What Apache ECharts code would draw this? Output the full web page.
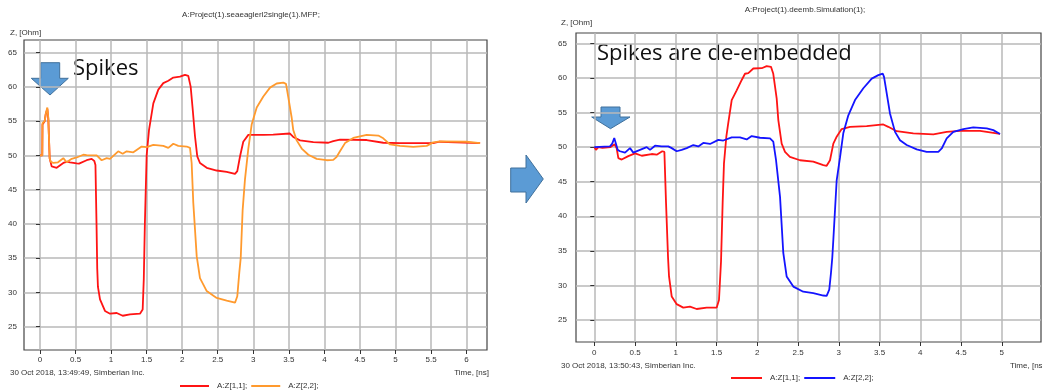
<!DOCTYPE html>
<html>
<head>
<meta charset="utf-8">
<script src="https://cdn.jsdelivr.net/npm/echarts@6/dist/echarts.min.js"></script>
<style>
html,body{margin:0;padding:0;background:#fff;}
#c{width:1042px;height:392px;}
</style>
</head>
<body>
<div id="c"></div>
<script>
// ---------- data ----------
const xTicksLeft = [0,0.5,1,1.5,2,2.5,3,3.5,4,4.5,5,5.5,6];
const xTicksRight = [0,0.5,1,1.5,2,2.5,3,3.5,4,4.5,5];
const yTicks = [25,30,35,40,45,50,55,60,65];

const leftTitle = 'A:Project(1).seaeaglerl2single(1).MFP;';
const rightTitle = 'A:Project(1).deemb.Simulation(1);';
const yAxisName = 'Z, [Ohm]';
const xAxisName = 'Time, [ns]';
const leftStamp = '30 Oct 2018, 13:49:49, Simberian Inc.';
const rightStamp = '30 Oct 2018, 13:50:43, Simberian Inc.';
const seriesLabels = ['A:Z[1,1];', 'A:Z[2,2];'];
const leftNote = 'Spikes';
const rightNote = 'Spikes are de-embedded';

// left chart, Z[1,1] (red)
const leftZ11 = [[0,50],[0.032,50],[0.035,54.5],[0.066,55.0],[0.08,56.0],[0.103,56.8],[0.117,55.3],[0.136,49.6],[0.15,49.0],[0.164,48.4],[0.235,48.2],[0.328,48.9],[0.384,49.1],[0.422,49.0],[0.516,48.85],[0.549,48.8],[0.656,49.3],[0.727,49.5],[0.764,49.2],[0.78,48.6],[0.795,40.0],[0.805,33.5],[0.815,30.8],[0.844,29.0],[0.914,27.3],[0.985,26.9],[1.079,27.0],[1.163,26.6],[1.266,26.8],[1.406,26.9],[1.444,27.5],[1.46,32.0],[1.475,40.0],[1.50,50.0],[1.533,53.7],[1.594,57.6],[1.664,59.6],[1.734,60.55],[1.805,60.9],[1.875,61.37],[1.969,61.5],[2.039,61.76],[2.086,61.6],[2.119,60.05],[2.148,56.7],[2.18,52.8],[2.212,49.85],[2.25,48.9],[2.345,48.2],[2.485,47.8],[2.626,47.6],[2.743,47.3],[2.775,47.7],[2.813,49.85],[2.859,52.0],[2.93,53.0],[3.14,53.0],[3.28,53.05],[3.516,53.2],[3.562,52.7],[3.657,52.2],[3.844,51.95],[4.055,51.85],[4.125,52.1],[4.219,52.3],[4.595,52.25],[4.828,51.85],[5.063,51.8],[5.53,51.8],[5.62,52.0],[6.19,51.8]];
// left chart, Z[2,2] (orange)
const leftZ22 = [[0,50],[0.032,50],[0.035,54.7],[0.066,55.0],[0.08,56.0],[0.103,57.0],[0.117,55.5],[0.136,49.6],[0.15,49.1],[0.188,48.9],[0.253,49.0],[0.328,49.6],[0.375,49.0],[0.446,49.5],[0.516,49.7],[0.609,50.1],[0.656,50.05],[0.797,50.0],[0.867,49.3],[0.938,49.6],[0.985,49.5],[1.1,50.6],[1.163,50.25],[1.219,50.6],[1.313,50.45],[1.43,51.3],[1.5,51.2],[1.594,51.55],[1.734,51.4],[1.805,51.1],[1.875,51.7],[1.945,51.4],[2.063,51.3],[2.11,51.1],[2.133,48.9],[2.156,43.1],[2.204,35.3],[2.25,32.1],[2.345,30.2],[2.485,29.2],[2.626,28.8],[2.743,28.5],[2.775,29.45],[2.803,32.9],[2.823,35.0],[2.85,42.0],[2.883,46.5],[2.93,51.0],[2.977,54.5],[3.048,57.0],[3.141,58.6],[3.235,59.9],[3.329,60.5],[3.422,60.62],[3.46,60.45],[3.492,58.5],[3.54,55.5],[3.562,53.7],[3.61,52.2],[3.681,51.0],[3.774,50.1],[3.892,49.5],[4.032,49.3],[4.125,49.35],[4.173,49.8],[4.219,50.6],[4.29,51.8],[4.406,52.55],[4.595,53.0],[4.758,52.9],[4.828,52.5],[4.923,51.6],[5.063,51.4],[5.25,51.25],[5.439,51.4],[5.53,51.9],[5.626,52.05],[6.0,52.0],[6.19,51.8]];
// right chart, Z[1,1] (red)
const rightZ11 = [[0,50],[0.02,49.6],[0.05,50.0],[0.1,49.9],[0.2,50.0],[0.25,50.4],[0.275,49.8],[0.295,48.4],[0.336,48.2],[0.417,48.7],[0.5,49.1],[0.582,48.75],[0.704,49.0],[0.766,48.9],[0.834,49.4],[0.86,49.3],[0.88,42.0],[0.905,34.0],[0.917,31.3],[0.95,28.4],[1.011,27.3],[1.092,26.8],[1.174,26.95],[1.256,26.6],[1.379,26.8],[1.502,26.8],[1.53,27.9],[1.555,33.5],[1.575,42.0],[1.591,47.6],[1.62,51.5],[1.644,53.5],[1.686,56.8],[1.747,58.2],[1.809,59.7],[1.849,60.6],[1.89,60.7],[1.951,61.36],[2.054,61.4],[2.115,61.7],[2.168,61.6],[2.196,60.6],[2.238,57.0],[2.258,53.9],[2.299,50.5],[2.34,49.3],[2.4,48.6],[2.524,48.1],[2.687,47.9],[2.81,47.4],[2.851,47.3],[2.892,48.1],[2.933,50.5],[2.974,51.5],[3.035,52.6],[3.137,52.93],[3.342,53.03],[3.546,53.27],[3.607,52.93],[3.71,52.3],[3.914,51.98],[4.16,51.85],[4.324,52.2],[4.487,52.35],[4.733,52.35],[4.978,51.9]];
// right chart, Z[2,2] (blue)
const rightZ22 = [[0,50],[0.193,50.1],[0.22,50.5],[0.245,51.3],[0.266,51.05],[0.287,49.6],[0.315,49.4],[0.377,49.2],[0.438,49.85],[0.479,49.2],[0.561,49.6],[0.643,50.0],[0.684,49.6],[0.745,50.2],[0.827,50.1],[0.908,50.1],[0.95,49.85],[1.011,49.4],[1.072,49.6],[1.134,49.85],[1.215,50.3],[1.276,50.1],[1.337,50.6],[1.42,50.45],[1.522,51.05],[1.583,50.95],[1.686,51.4],[1.787,51.4],[1.87,51.1],[1.931,51.6],[2.033,51.35],[2.156,51.25],[2.196,50.8],[2.23,48.1],[2.279,42.8],[2.319,34.7],[2.36,31.3],[2.442,29.84],[2.564,29.1],[2.687,28.9],[2.81,28.55],[2.851,28.5],[2.883,29.4],[2.904,31.8],[2.92,34.0],[2.933,36.6],[2.974,45.2],[3.015,48.5],[3.055,52.0],[3.117,54.6],[3.199,56.8],[3.301,58.5],[3.404,59.9],[3.485,60.4],[3.539,60.63],[3.555,60.14],[3.588,57.75],[3.628,54.86],[3.69,52.2],[3.751,51.0],[3.833,50.3],[3.956,49.67],[4.078,49.3],[4.221,49.3],[4.263,49.8],[4.324,51.25],[4.405,52.2],[4.528,52.6],[4.65,52.84],[4.815,52.7],[4.896,52.45],[4.978,51.9]];

// ---------- styling ----------
const RED = '#ff1414', ORANGE = '#ff9a2e', BLUE = '#1414ff';
const FONT = '"Liberation Sans", Arial, sans-serif';
const NOTE_FONT = '22px "Open Sans", sans-serif';
const gridLine = {show: true, lineStyle: {color: '#b9b9b9', width: 1.5}};

function xAxisCfg(gi, min, max, ticks, margin) {
  return {
    type: 'value', gridIndex: gi, min: min, max: max,
    axisLine: {show: false},
    axisTick: {show: true, length: 4, inside: false, customValues: ticks, lineStyle: {color: '#333'}},
    axisLabel: {customValues: ticks, margin: margin, color: '#333', fontSize: 8, fontFamily: FONT},
    splitLine: gridLine
  };
}
function yAxisCfg(gi, min, max, margin) {
  return {
    type: 'value', gridIndex: gi, min: min, max: max,
    axisLine: {show: false},
    axisTick: {show: true, length: 4, inside: false, customValues: yTicks, lineStyle: {color: '#333'}},
    axisLabel: {customValues: yTicks, margin: margin, color: '#333', fontSize: 8, fontFamily: FONT},
    splitLine: gridLine
  };
}
function lineSeries(id, data, color, xi) {
  return {
    name: id, type: 'line', xAxisIndex: xi, yAxisIndex: xi, data: data,
    showSymbol: false, symbol: 'none', animation: false, clip: true,
    lineStyle: {color: color, width: 1.8}, itemStyle: {color: color}
  };
}
function txt(x, y, s, opts) {
  return Object.assign({type: 'text', x: x, y: y, silent: true,
    style: Object.assign({text: s, font: '8px ' + FONT, fill: '#333', align: 'left', verticalAlign: 'middle'}, opts || {})});
}
function poly(points) {
  return {type: 'polygon', shape: {points: points}, style: {fill: '#5b9bd5', stroke: '#41719c', lineWidth: 1}};
}
function legendCfg(names, left, centerY, w) {
  return {data: names, left: left, top: centerY - 5, padding: 0, icon: 'rect',
    itemWidth: w, itemHeight: 2, itemGap: 4,
    formatter: n => legendNames[n], selectedMode: false,
    textStyle: {fontSize: 8, color: '#333', fontFamily: FONT, lineHeight: 10, padding: [0, 0, 0, 3]}};
}

const legendNames = {L11: seriesLabels[0], L22: seriesLabels[1], R11: seriesLabels[0], R22: seriesLabels[1]};

const chart = echarts.init(document.getElementById('c'), null, {renderer: 'canvas'});
chart.setOption({
  animation: false,
  backgroundColor: '#fff',
  grid: [
    {left: 24, top: 40, width: 463, height: 310, show: true, borderColor: '#444', borderWidth: 1.2, backgroundColor: 'transparent'},
    {left: 576, top: 33, width: 465, height: 309, show: true, borderColor: '#444', borderWidth: 1.2, backgroundColor: 'transparent'}
  ],
  xAxis: [
    xAxisCfg(0, -0.225, 6.287, xTicksLeft, 6),
    xAxisCfg(1, -0.2245, 5.481, xTicksRight, 7)
  ],
  yAxis: [
    yAxisCfg(0, 21.6, 66.85, 7),
    yAxisCfg(1, 21.83, 66.49, 9)
  ],
  legend: [
    legendCfg(['L11', 'L22'], 180, 386, 29),
    legendCfg(['R11', 'R22'], 731, 378, 31)
  ],
  series: [
    lineSeries('L11', leftZ11, RED, 0),
    lineSeries('L22', leftZ22, ORANGE, 0),
    lineSeries('R11', rightZ11, RED, 1),
    lineSeries('R22', rightZ22, BLUE, 1)
  ],
  graphic: [
    txt(251, 15, leftTitle, {align: 'center'}),
    txt(805, 10, rightTitle, {align: 'center'}),
    txt(10, 33, yAxisName),
    txt(561, 23, yAxisName),
    txt(10, 373, leftStamp),
    txt(489, 373, xAxisName, {align: 'right'}),
    txt(561, 366, rightStamp),
    txt(1010, 366, xAxisName),
    // annotations
    poly([[40.7,62.7],[59.7,62.7],[59.7,78.3],[68.3,78.3],[50,95],[31.3,78.3],[40.7,78.3]]),
    txt(73, 69, leftNote, {font: NOTE_FONT, fill: '#111'}),
    poly([[601,107],[620,107],[620,117],[630,117],[610.5,128.7],[591.7,117],[601,117]]),
    txt(597, 53.5, rightNote, {font: NOTE_FONT, fill: '#111'}),
    poly([[510.7,168],[526,168],[526,155],[543.3,179],[526,203],[526,192],[510.7,192]])
  ]
});
</script>
</body>
</html>
